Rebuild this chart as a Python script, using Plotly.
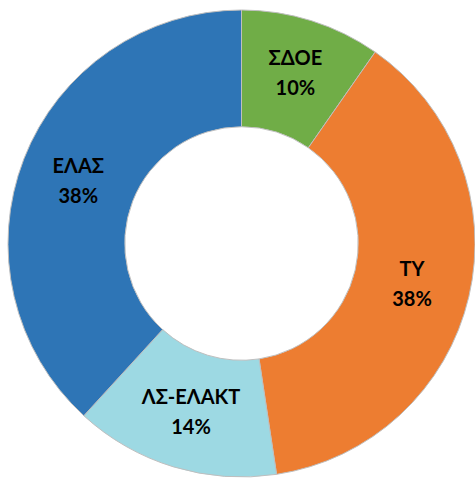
import plotly.graph_objects as go

labels = ["ΣΔΟΕ", "ΤΥ", "ΛΣ-ΕΛΑΚΤ", "ΕΛΑΣ"]
values = [9.7, 37.9, 14.2, 38.2]
colors = ["#70AD47", "#ED7D31", "#9DD9E3", "#2E75B6"]

W, H = 475, 479

span = "<span style='font-size:20px'><b>{}</b></span>"
template = span.format("%{label}") + "<br>" + span.format("%{percent:.0%}")

fig = go.Figure(go.Pie(
    labels=labels,
    values=values,
    hole=0.5,
    sort=False,
    direction="clockwise",
    rotation=0,
    marker=dict(colors=colors, line=dict(color="#BFBFBF", width=1)),
    texttemplate=template,
    textposition="inside",
    insidetextorientation="horizontal",
    textfont=dict(family="Lato, 'Open Sans', sans-serif", size=23, color="#000000"),
    domain=dict(x=[8 / W, 1.0], y=[2 / H, 469 / H]),
    showlegend=False,
    hoverinfo="skip",
))

fig.update_layout(
    width=W, height=H,
    margin=dict(l=0, r=0, t=0, b=0),
    paper_bgcolor="white",
    plot_bgcolor="white",
)

fig.write_html("out.html", config={"displayModeBar": False},
               post_script="document.body.style.margin='0';")
